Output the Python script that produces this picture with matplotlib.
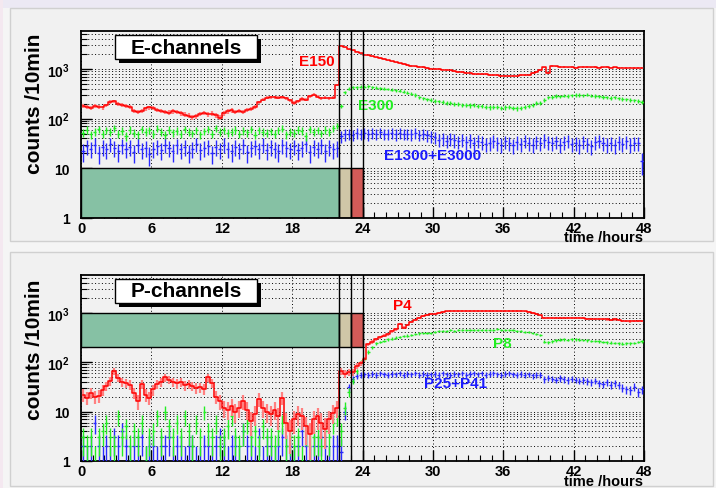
import numpy as np
import matplotlib as mpl
mpl.use('Agg')
import matplotlib.pyplot as plt
from matplotlib.patches import Rectangle
from matplotlib.ticker import FixedLocator, MultipleLocator, LogLocator, NullFormatter

plt.rcParams['font.family'] = ['Liberation Sans', 'DejaVu Sans']
plt.rcParams['mathtext.fontset'] = 'custom'
plt.rcParams['mathtext.rm'] = 'Liberation Sans:bold'
plt.rcParams['mathtext.bf'] = 'Liberation Sans:bold'

# ---- data: counts per 10 min, read in 20-min bins (3 per hour, 0..48 h) ----
BIN = 1.0 / 3.0

e150 = [180, 172, 165, 178, 170, 168, 185, 215, 222, 200, 190, 178,
        172, 145, 138, 142, 160, 168, 162, 150, 145, 136, 132, 140,
        138, 128, 120, 115, 106, 112, 125, 130, 122, 126, 118, 104,
        128, 140, 146, 138, 142, 136, 150, 158, 175, 212, 240, 265,
        272, 268, 262, 270, 258, 232, 205, 222, 248, 240, 285, 302,
        275, 258, 262, 255, 262, 480, 2950, 2700, 2500, 2350, 2200, 2050,
        1950, 1880, 1800, 1720, 1650, 1580, 1500, 1420, 1350, 1300, 1250, 1200,
        1150, 1120, 1100, 1080, 1050, 1020, 1000, 990, 970, 960, 930, 900,
        875, 860, 840, 815, 800, 795, 790, 780, 760, 755, 745, 735,
        730, 725, 710, 705, 740, 760, 770, 820, 880, 940, 1075, 820,
        1150, 1120, 1090, 1080, 1070, 1085, 1060, 1075, 1090, 1100, 1070, 1080,
        1065, 1070, 1080, 1060, 1075, 1050, 1060, 1050, 1065, 1045, 1055, 1040]

e300 = [52, 60, 48, 55, 62, 50, 58, 54, 64, 50, 57, 45,
        60, 52, 48, 62, 55, 58, 50, 63, 55, 47, 60, 53,
        57, 49, 62, 55, 51, 59, 48, 56, 61, 50, 64, 54,
        58, 52, 55, 60, 49, 57, 53, 61, 47, 58, 54, 52,
        56, 50, 59, 63, 48, 55, 52, 60, 57, 45, 62, 54,
        58, 51, 60, 55, 64, 72, 180, 340, 400, 425, 430, 440,
        440, 445, 430, 420, 410, 400, 395, 380, 370, 365, 350, 335,
        320, 300, 270, 255, 245, 240, 230, 222, 215, 210, 205, 200,
        195, 192, 188, 185, 190, 182, 178, 172, 168, 175, 170, 165,
        168, 172, 165, 160, 163, 170, 180, 192, 205, 210, 240, 270,
        275, 285, 280, 290, 285, 295, 298, 300, 295, 302, 290, 285,
        280, 275, 270, 262, 268, 255, 250, 245, 240, 232, 228, 215]

e1300 = [22, 28, 25, 30, 20, 27, 24, 31, 26, 22, 29, 25,
         27, 21, 30, 24, 26, 19, 25, 28, 23, 30, 26, 22,
         29, 24, 27, 21, 25, 31, 23, 26, 28, 20, 27, 24,
         30, 25, 22, 27, 24, 29, 21, 26, 28, 24, 30, 23,
         27, 25, 22, 29, 26, 24, 28, 23, 26, 31, 21, 27,
         25, 29, 22, 27, 24, 26, 45, 48, 50, 47, 52, 49,
         51, 48, 52, 50, 53, 49, 50, 52, 48, 51, 49, 50,
         48, 51, 47, 49, 46, 45, 42, 38, 40, 36, 39, 37,
         35, 38, 34, 37, 33, 36, 34, 31, 33, 36, 32, 30,
         35, 32, 29, 34, 31, 36, 33, 30, 35, 32, 37, 34,
         32, 35, 30, 34, 36, 31, 33, 29, 35, 31, 28, 34,
         36, 32, 30, 33, 29, 34, 31, 35, 30, 33, 32, 14]

p4 = [22, 19, 24, 20, 21, 27, 33, 42, 66, 48, 40, 38,
      35, 24, 16, 36, 22, 19, 28, 36, 40, 49, 44, 40,
      37, 39, 34, 36, 33, 30, 31, 29, 49, 38, 20, 16,
      12, 11, 13, 10, 12, 16, 11, 6.5, 9, 18, 12, 10,
      9, 11, 8, 19, 6, 4, 7, 9, 8, 5, 3.5, 7,
      8, 6, 4.5, 7, 9.5, 12, 66, 58, 64, 62, 84, 95,
      115, 230, 255, 290, 320, 345, 370, 420, 465, 590, 500, 560,
      640, 720, 800, 850, 900, 935, 960, 1000, 1040, 1060, 1080, 1070,
      1090, 1080, 1095, 1085, 1090, 1100, 1095, 1090, 1085, 1100, 1095, 1090,
      1095, 1085, 1080, 1090, 1070, 1060, 1040, 1000, 950, 880, 800, 790,
      790, 785, 795, 780, 790, 785, 790, 780, 775, 760, 745, 740,
      735, 740, 730, 720, 730, 710, 690, 680, 665, 670, 680, 690]

p8 = [3, 2, 3, 1, 3, 4, 6, 3, 2, 8, 3, 5,
      2, 4, 3, 6, 1, 3, 4, 8, 3, 10, 5, 3,
      6, 3, 8, 4, 2, 6, 3, 10, 4, 3, 6, 2,
      3, 5, 8, 3, 2, 4, 6, 3, 4, 2, 5, 3,
      3, 2, 4, 6, 2, 3, 2, 3, 1, 4, 2, 3,
      3, 2, 4, 3, 6, 8, 4, 12, 25, 42, 66, 100,
      115, 160, 200, 240, 255, 270, 290, 300, 315, 325, 335, 345,
      360, 370, 380, 385, 390, 397, 410, 420, 425, 430, 440, 435,
      445, 440, 450, 445, 455, 448, 450, 445, 455, 450, 460, 452,
      455, 448, 440, 430, 420, 410, 400, 385, 370, 350, 260, 250,
      265, 275, 285, 290, 280, 288, 290, 285, 280, 275, 270, 268,
      262, 255, 250, 248, 245, 240, 238, 242, 240, 245, 255, 265]

p25 = [2, 1, 2, 6, 2, 1, 2, 1, 3, 2, 4, 2,
       1, 2, 2, 3, 1, 2, 2, 1, 2, 2, 3, 1,
       2, 2, 1, 2, 2, 1, 1, 2, 2, 1, 2, 3,
       2, 1, 2, 2, 1, 4, 2, 2, 1, 3, 1, 2,
       2, 1, 2, 3, 2, 2, 1, 2, 4, 2, 1, 2,
       2, 3, 2, 1, 2, 2, 1.5, 10, 31, 45, 52, 55,
       57, 55, 58, 56, 59, 57, 56, 58, 57, 59, 55, 58,
       57, 60, 56, 58, 55, 57, 58, 56, 59, 57, 55, 58,
       57, 59, 56, 58, 60, 57, 59, 56, 58, 60, 57, 55,
       58, 60, 57, 56, 58, 55, 57, 54, 56, 55, 45, 48,
       46, 44, 47, 45, 43, 46, 44, 42, 43, 41, 40, 42,
       38, 36, 39, 35, 37, 34, 30, 28, 27, 32, 25, 28]

xticks = [0, 6, 12, 18, 24, 30, 36, 42, 48]
ytick_vals = [1, 10, 100, 1000]
ytick_labels = ['1', '10', r'$10^{2}$', r'$10^{3}$']
phases = [(0, 22, '#86c1a4'), (22, 23, '#cfc6a7'), (23, 24, '#d35b58')]

W, H = 716, 489
fig = plt.figure(figsize=(W / 100, H / 100), dpi=100)
fig.patch.set_facecolor('#f5f5f5')


def fx(x):
    return x / W


def fy(y):
    return 1 - y / H


def prect(x0, y0, x1, y1, z=-10, **kw):
    fig.patches.append(Rectangle((fx(x0), fy(y1)), fx(x1) - fx(x0), fy(y0) - fy(y1),
                                 transform=fig.transFigure, zorder=z, **kw))


# page background bits
prect(0, 0, W, 9, facecolor='#ece9f4', edgecolor='none')
prect(0, 0, 3, H, facecolor='#f4e8f0', edgecolor='none')
prect(10, 9, 713, 242, facecolor='#f1f1f1', edgecolor='#d0d0d0', lw=1)
prect(10, 253, 713, 487, facecolor='#f1f1f1', edgecolor='#d0d0d0', lw=1)

t = (np.arange(len(e150)) + 0.5) * BIN


def draw_series(ax, vals, color, scale, line=False, ecolor=None):
    v = np.asarray(vals, float)
    err = np.sqrt(v) * scale
    lo = np.minimum(err, v * 0.99)
    if line:
        ax.errorbar(t, v, yerr=[lo, err], fmt='none', ecolor=ecolor, elinewidth=1.6, zorder=4)
        ax.step(t, v, where='mid', color=color, lw=1.1, zorder=5)
    else:
        ax.errorbar(t, v, xerr=BIN * 0.4, yerr=[lo, err], fmt='none', ecolor=color,
                    elinewidth=1.0, zorder=4)


def setup(ax, box_lo, box_hi):
    ax.set_facecolor('#f1f1f1')
    ax.set_yscale('log')
    ax.set_xlim(0, 48)
    ax.set_ylim(1, 5800)
    ax.yaxis.set_major_locator(FixedLocator(ytick_vals))
    ax.set_yticklabels(ytick_labels, fontsize=10, fontweight='bold')
    ax.yaxis.set_minor_locator(LogLocator(base=10, subs=np.arange(2, 10)))
    ax.yaxis.set_minor_formatter(NullFormatter())
    ax.set_xticks(xticks)
    ax.set_xticklabels([str(x) for x in xticks], fontsize=10.5, fontweight='bold')
    ax.xaxis.set_minor_locator(MultipleLocator(1))
    ax.tick_params(which='both', direction='in', top=False, right=False)
    ax.tick_params(which='major', length=8, width=1, pad=2)
    ax.tick_params(which='minor', length=4, width=0.8)
    ax.tick_params(axis='y', which='major', pad=8)
    ax.grid(True, axis='y', which='both', color='k', ls=(0, (1, 2.5)), lw=0.7, zorder=0)
    ax.grid(True, axis='x', which='major', color='k', ls=(0, (1, 2.5)), lw=0.7, zorder=0)
    ax.set_axisbelow(True)
    for s in ax.spines.values():
        s.set_linewidth(1.3)
    for x0, x1, c in phases:
        ax.add_patch(Rectangle((x0, box_lo), x1 - x0, box_hi - box_lo, facecolor=c,
                               edgecolor='k', lw=1, zorder=2))
    for x in (22, 23, 24):
        ax.axvline(x, color='k', lw=1, zorder=6)


def title_box(x0, y0, text):
    prect(x0 + 4, y0 + 4, x0 + 146, y0 + 28, z=10, facecolor='k', edgecolor='none')
    prect(x0, y0, x0 + 142, y0 + 24, z=11, facecolor='white', edgecolor='k', lw=1)
    fig.text(fx(x0 + 71), fy(y0 + 12), text, ha='center', va='center',
             fontsize=15, fontweight='bold', zorder=12)


# ---- top panel: E-channels ----
ax1 = fig.add_axes([fx(81), fy(219), fx(644) - fx(81), fy(32) - fy(219)])
setup(ax1, 1, 10)
draw_series(ax1, e1300, '#2a2aff', 1.8)
draw_series(ax1, e300, '#22ee22', 1.3)
draw_series(ax1, e150, '#ff0000', 1.2, line=True, ecolor='#ff8080')
ax1.text(21.6, 1450, 'E150', color='#ff0000', fontsize=11, fontweight='bold', ha='right', va='center')
ax1.text(23.6, 188, 'E300', color='#22ee22', fontsize=11, fontweight='bold', ha='left', va='center')
ax1.text(25.8, 18.5, 'E1300+E3000', color='#1a1aff', fontsize=11, fontweight='bold', ha='left', va='center')

# ---- bottom panel: P-channels ----
ax2 = fig.add_axes([fx(81), fy(462), fx(644) - fx(81), fy(276) - fy(462)])
setup(ax2, 200, 1000)
draw_series(ax2, p25, '#2a2aff', 1.0)
draw_series(ax2, p8, '#22ee22', 1.0)
draw_series(ax2, p4, '#ff0000', 1.3, line=True, ecolor='#ff8080')
ax2.text(27.4, 1420, 'P4', color='#ff0000', fontsize=11, fontweight='bold', ha='center', va='center')
ax2.text(35.9, 240, 'P8', color='#22ee22', fontsize=11, fontweight='bold', ha='center', va='center')
ax2.text(31.9, 38, 'P25+P41', color='#1a1aff', fontsize=11, fontweight='bold', ha='center', va='center')

title_box(115, 36, 'E-channels')
title_box(115, 280, 'P-channels')

fig.text(fx(35), fy(104), 'counts /10min', rotation=90, ha='center', va='center',
         fontsize=15, fontweight='bold')
fig.text(fx(35), fy(350), 'counts /10min', rotation=90, ha='center', va='center',
         fontsize=15, fontweight='bold')
fig.text(fx(643), fy(238), 'time /hours', ha='right', va='center', fontsize=10.5, fontweight='bold')
fig.text(fx(643), fy(482), 'time /hours', ha='right', va='center', fontsize=10.5, fontweight='bold')

fig.savefig('out.png', dpi=100)
plt.close(fig)
